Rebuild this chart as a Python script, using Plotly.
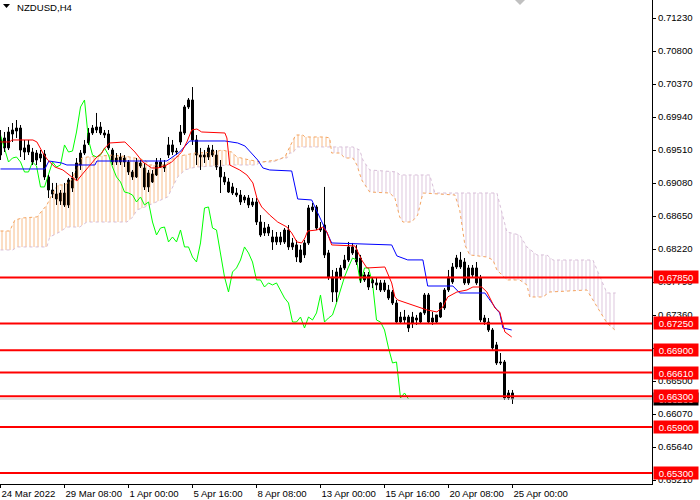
import plotly.graph_objects as go

# ---------------- data ----------------
open_ = [
0.69445, 0.69667, 0.69537, 0.69719, 0.69758, 0.69797, 0.69537, 0.69484, 0.69354, 0.69380,
0.69406, 0.69458, 0.69159, 0.68989, 0.68937, 0.68846, 0.68950, 0.68794, 0.69015, 0.69146,
0.69315, 0.69471, 0.69602, 0.69732, 0.69771, 0.69810, 0.69732, 0.69719, 0.69510, 0.69354,
0.69354, 0.69406, 0.69354, 0.69159, 0.69159, 0.69341, 0.69276, 0.69211, 0.69094, 0.69185,
0.69354, 0.69276, 0.69445, 0.69576, 0.69484, 0.69615, 0.69732, 0.70071, 0.70162, 0.69641,
0.69445, 0.69419, 0.69419, 0.69510, 0.69445, 0.69289, 0.69159, 0.69094, 0.69029, 0.68950,
0.68924, 0.68859, 0.68885, 0.68794, 0.68833, 0.68572, 0.68429, 0.68429, 0.68377, 0.68312,
0.68377, 0.68312, 0.68468, 0.68299, 0.68273, 0.68208, 0.68143, 0.68299, 0.68729, 0.68768,
0.68494, 0.68533, 0.68169, 0.67856, 0.67660, 0.67856, 0.67973, 0.68077, 0.68247, 0.68208,
0.68103, 0.67882, 0.67882, 0.67817, 0.67778, 0.67686, 0.67778, 0.67686, 0.67660, 0.67517,
0.67334, 0.67295, 0.67334, 0.67256, 0.67321, 0.67269, 0.67387, 0.67621, 0.67269, 0.67269,
0.67334, 0.67452, 0.67686, 0.67791, 0.67986, 0.67986, 0.68051, 0.67778, 0.67882, 0.67973,
0.67843, 0.67321, 0.67269, 0.67165, 0.66970, 0.66735, 0.66748, 0.66279, 0.66344]

high = [
0.69771, 0.69745, 0.69810, 0.69862, 0.69901, 0.69836, 0.69641, 0.69641, 0.69537, 0.69510,
0.69510, 0.69510, 0.69185, 0.69081, 0.69081, 0.68989, 0.69081, 0.69146, 0.69224, 0.69406,
0.69510, 0.69641, 0.69797, 0.69836, 0.69993, 0.69875, 0.69771, 0.69771, 0.69537, 0.69471,
0.69471, 0.69445, 0.69380, 0.69250, 0.69406, 0.69380, 0.69341, 0.69250, 0.69250, 0.69406,
0.69406, 0.69380, 0.69680, 0.69641, 0.69537, 0.69836, 0.70097, 0.70188, 0.70331, 0.69706,
0.69537, 0.69510, 0.69576, 0.69576, 0.69510, 0.69380, 0.69224, 0.69146, 0.69081, 0.69015,
0.68989, 0.68924, 0.68924, 0.68885, 0.68885, 0.68663, 0.68572, 0.68546, 0.68468, 0.68442,
0.68442, 0.68494, 0.68533, 0.68364, 0.68338, 0.68273, 0.68338, 0.68794, 0.68820, 0.68794,
0.68572, 0.69029, 0.68208, 0.67947, 0.67973, 0.68012, 0.68143, 0.68312, 0.68299, 0.68273,
0.68143, 0.67921, 0.67921, 0.67856, 0.67843, 0.67817, 0.67817, 0.67752, 0.67686, 0.67556,
0.67400, 0.67426, 0.67361, 0.67400, 0.67361, 0.67400, 0.67647, 0.67647, 0.67400, 0.67361,
0.67530, 0.67712, 0.67947, 0.68038, 0.68143, 0.68182, 0.68103, 0.68012, 0.68012, 0.68051,
0.67882, 0.67361, 0.67321, 0.67191, 0.67009, 0.66865, 0.66774, 0.66383, 0.66383]

low = [
0.69380, 0.69484, 0.69510, 0.69615, 0.69667, 0.69419, 0.69380, 0.69445, 0.69315, 0.69315,
0.69354, 0.69120, 0.68885, 0.68885, 0.68794, 0.68794, 0.68768, 0.68755, 0.68963, 0.69120,
0.69250, 0.69445, 0.69576, 0.69706, 0.69732, 0.69706, 0.69667, 0.69510, 0.69315, 0.69315,
0.69315, 0.69289, 0.69185, 0.69120, 0.69146, 0.69276, 0.68989, 0.68963, 0.69081, 0.69172,
0.69276, 0.69224, 0.69406, 0.69445, 0.69445, 0.69576, 0.69706, 0.70045, 0.69576, 0.69315,
0.69250, 0.69341, 0.69380, 0.69419, 0.69250, 0.68950, 0.69055, 0.68950, 0.68924, 0.68898,
0.68794, 0.68820, 0.68755, 0.68768, 0.68533, 0.68377, 0.68390, 0.68390, 0.68208, 0.68273,
0.68273, 0.68286, 0.68208, 0.68208, 0.68051, 0.68038, 0.68103, 0.68273, 0.68703, 0.68468,
0.68442, 0.68103, 0.67817, 0.67530, 0.67530, 0.67817, 0.67947, 0.68051, 0.68143, 0.68012,
0.67778, 0.67791, 0.67686, 0.67712, 0.67686, 0.67660, 0.67660, 0.67556, 0.67491, 0.67256,
0.67256, 0.67256, 0.67139, 0.67191, 0.67230, 0.67243, 0.67361, 0.67256, 0.67230, 0.67256,
0.67321, 0.67426, 0.67660, 0.67765, 0.67960, 0.67960, 0.67752, 0.67752, 0.67856, 0.67752,
0.67269, 0.67230, 0.67139, 0.66905, 0.66709, 0.66709, 0.66253, 0.66253, 0.66201]

close = [
0.69667, 0.69537, 0.69745, 0.69771, 0.69797, 0.69510, 0.69484, 0.69576, 0.69484, 0.69471,
0.69458, 0.69159, 0.68989, 0.68937, 0.68872, 0.68950, 0.68794, 0.69120, 0.69146, 0.69341,
0.69471, 0.69576, 0.69732, 0.69797, 0.69810, 0.69732, 0.69706, 0.69537, 0.69354, 0.69406,
0.69419, 0.69354, 0.69224, 0.69224, 0.69354, 0.69302, 0.69029, 0.69029, 0.69198, 0.69354,
0.69289, 0.69315, 0.69576, 0.69484, 0.69497, 0.69745, 0.70071, 0.70162, 0.69641, 0.69445,
0.69419, 0.69445, 0.69537, 0.69445, 0.69289, 0.69159, 0.69094, 0.68963, 0.68950, 0.68924,
0.68833, 0.68898, 0.68794, 0.68833, 0.68572, 0.68403, 0.68494, 0.68507, 0.68312, 0.68377,
0.68312, 0.68468, 0.68247, 0.68247, 0.68116, 0.68051, 0.68299, 0.68755, 0.68768, 0.68494,
0.68468, 0.68143, 0.67856, 0.67660, 0.67921, 0.67973, 0.68077, 0.68247, 0.68169, 0.68051,
0.67817, 0.67817, 0.67725, 0.67778, 0.67752, 0.67778, 0.67686, 0.67582, 0.67517, 0.67269,
0.67269, 0.67334, 0.67191, 0.67334, 0.67295, 0.67387, 0.67621, 0.67269, 0.67321, 0.67361,
0.67517, 0.67686, 0.67856, 0.67986, 0.68103, 0.68077, 0.67778, 0.67973, 0.67973, 0.67778,
0.67295, 0.67269, 0.67165, 0.66931, 0.66735, 0.66748, 0.66279, 0.66344, 0.66266]

# Tenkan-sen (red) vertices: bar index / price
tenkan_x = [0, 2.3, 2.8, 8.1, 9.1, 10.6, 11.8, 13.6, 15.6, 17.3, 19.1, 20.3, 21.3, 22.8, 24.1,
            25.3, 26.1, 27.3, 31.1, 33.6, 35.6, 37.8, 39.3, 41.1, 42.8, 45.3, 46.6, 47.8, 49.1,
            50.3, 56.1, 56.6, 57.3, 59.8, 61.6, 63.1, 64.1, 65.3, 67.3, 69.3, 71.6, 72.8, 74.1,
            75.3, 76.1, 76.8, 79.1, 80.6, 81.6, 82.8, 88.6, 89.1, 90.3, 91.6, 96.1, 97.8, 98.6,
            99.3, 101.6, 104.8, 106.6, 109.1, 110.6, 111.8, 114.1, 116.6, 118.1, 120.3, 121.6,
            123.6, 124.8, 126.1, 127.8]
tenkan_y = [0.69615, 0.69615, 0.69641, 0.69641, 0.69615, 0.69471, 0.69380, 0.69289, 0.69250,
            0.69185, 0.69107, 0.69185, 0.69250, 0.69341, 0.69419, 0.69471, 0.69537, 0.69602,
            0.69615, 0.69484, 0.69354, 0.69276, 0.69276, 0.69302, 0.69354, 0.69484, 0.69615,
            0.69771, 0.69784, 0.69745, 0.69732, 0.69667, 0.69315, 0.69250, 0.69185, 0.69081,
            0.68885, 0.68768, 0.68663, 0.68572, 0.68507, 0.68429, 0.68312, 0.68299, 0.68364,
            0.68455, 0.68468, 0.68507, 0.68442, 0.68273, 0.68260, 0.68208, 0.68077, 0.67973,
            0.67986, 0.67778, 0.67595, 0.67556, 0.67517, 0.67465, 0.67426, 0.67400, 0.67465,
            0.67595, 0.67660, 0.67686, 0.67725, 0.67725, 0.67660, 0.67452, 0.67400, 0.67139,
            0.67074]

# Kijun-sen (blue) vertices
kijun_x = [0, 11.1, 12.1, 13.6, 15.3, 16.6, 23.6, 24.1, 41.6, 44.8, 47.3, 56.1, 59.3, 61.1,
           64.3, 65.6, 67.3, 72.8, 74.3, 77.8, 82.8, 97.8, 99.1, 101.8, 105.6, 106.8, 113.1,
           114.8, 121.1, 124.1, 124.8, 125.6, 127.8]
kijun_y = [0.69263, 0.69263, 0.69367, 0.69354, 0.69341, 0.69315, 0.69315, 0.69367, 0.69367,
           0.69484, 0.69628, 0.69628, 0.69602, 0.69563, 0.69380, 0.69276, 0.69250, 0.69237,
           0.68872, 0.68859, 0.68299, 0.68273, 0.68130, 0.68078, 0.68078, 0.67738, 0.67738,
           0.67647, 0.67647, 0.67426, 0.67387, 0.67191, 0.67165]

# Senkou Span A (sandy brown) vertices
span_a_x = [0, 2.3, 3.6, 5.6, 9.1, 11.6, 12.8, 14.3, 16.1, 17.8, 19.1, 20.3, 21.8, 28.1, 32.3,
            36.1, 37.3, 41.1, 43.6, 48.6, 53.6, 55.3, 57.8, 59.1, 62.3, 65.3, 69.1, 71.1, 72.3,
            73.1, 73.8, 75.6, 76.1, 81.1, 82.3, 82.6, 82.8, 84.8, 86.1, 88.1, 89.1, 90.3, 92.3,
            97.3, 98.6, 99.8, 100.6, 102.8, 104.3, 105.6, 113.6, 114.8, 116.1, 117.3, 121.6,
            123.1, 124.1, 126.6, 129.8, 131.6, 132.3, 135.6, 137.3, 146.6, 148.1, 149.8, 151.6,
            153.6]
span_a_y = [0.68455, 0.68455, 0.68599, 0.68625, 0.68638, 0.68794, 0.68924, 0.69055, 0.69055,
            0.69120, 0.69276, 0.69406, 0.69419, 0.69445, 0.69419, 0.69380, 0.69315, 0.69315,
            0.69419, 0.69471, 0.69484, 0.69510, 0.69484, 0.69419, 0.69380, 0.69354, 0.69380,
            0.69419, 0.69550, 0.69641, 0.69706, 0.69706, 0.69680, 0.69680, 0.69667, 0.69550,
            0.69471, 0.69471, 0.69406, 0.69406, 0.69315, 0.69120, 0.68963, 0.68950, 0.68885,
            0.68638, 0.68572, 0.68572, 0.68663, 0.68950, 0.68924, 0.68729, 0.68273, 0.68143,
            0.68116, 0.68077, 0.67947, 0.67817, 0.67817, 0.67752, 0.67595, 0.67595, 0.67660,
            0.67686, 0.67556, 0.67426, 0.67256, 0.67165]

# Senkou Span B (thistle) vertices
span_b_x = [0, 3.1, 4.1, 11.6, 12.3, 14.8, 16.6, 19.8, 21.6, 31.6, 33.1, 34.1, 36.1, 39.8, 41.8,
            44.3, 46.1, 47.8, 49.3, 57.3, 64.1, 64.8, 68.1, 70.6, 71.6, 72.3, 73.1, 74.1, 82.6,
            88.1, 89.8, 90.6, 92.3, 99.1, 99.8, 107.3, 108.6, 124.1, 126.6, 129.8, 131.6, 134.1,
            136.6, 138.1, 148.1, 149.1, 151.6, 153.8]
span_b_y = [0.68208, 0.68208, 0.68247, 0.68247, 0.68377, 0.68442, 0.68507, 0.68507, 0.68572,
            0.68572, 0.68638, 0.68729, 0.68768, 0.68859, 0.68898, 0.69159, 0.69250, 0.69276,
            0.69289, 0.69315, 0.69315, 0.69354, 0.69354, 0.69406, 0.69406, 0.69471, 0.69471,
            0.69550, 0.69550, 0.69550, 0.69510, 0.69380, 0.69250, 0.69224, 0.69185, 0.69185,
            0.68950, 0.68950, 0.68442, 0.68403, 0.68247, 0.68143, 0.68143, 0.68077, 0.68077,
            0.67947, 0.67647, 0.67647]
span_cross_bar = 82.6

levels = [0.67850, 0.67250, 0.66900, 0.66610, 0.66300, 0.65900, 0.65300]

ytick_vals = [0.71230, 0.70800, 0.70370, 0.69940, 0.69510, 0.69080, 0.68650, 0.68220,
              0.67790, 0.67360, 0.66930, 0.66500, 0.66070, 0.65640, 0.65210]
ytick_hidden = [0.66930]   # fully covered by a level label in the reference
xtick_bars = [0, 16, 32, 48, 64, 80, 96, 112, 128]
xtick_labels = ["24 Mar 2022", "29 Mar 08:00", "1 Apr 00:00", "5 Apr 16:00", "8 Apr 08:00",
                "13 Apr 00:00", "15 Apr 16:00", "20 Apr 08:00", "25 Apr 00:00"]
chikou_shift = 26
symbol_title = "NZDUSD,H4"

assert len(open_) == len(high) == len(low) == len(close)

# ---------------- styles ----------------
FONT = "Liberation Sans"
FS = 9.6
ORANGE = "#F4A460"
THISTLE = "#D8BFD8"
W, H = 700, 500
ML, MR, MT, MB = 0, 48, 0, 16
PW, PH = W - ML - MR, H - MT - MB

n = len(close)
idx = list(range(n))

fig = go.Figure()

# ---- Ichimoku cloud (hatched) ----
def part(xs, ys, lo, hi):
    px, py = [], []
    for x, y in zip(xs, ys):
        if lo <= x <= hi:
            px.append(x)
            py.append(y)
    return px, py

bx1, by1 = part(span_b_x, span_b_y, -1, span_cross_bar)
ax1, ay1 = part(span_a_x, span_a_y, -1, span_cross_bar)
ax2, ay2 = part(span_a_x, span_a_y, span_cross_bar, 1e9)
bx2, by2 = part(span_b_x, span_b_y, span_cross_bar, 1e9)

fig.add_trace(go.Scatter(x=bx1, y=by1, mode="lines", line=dict(width=0), hoverinfo="skip"))
fig.add_trace(go.Scatter(x=ax1, y=ay1, mode="lines", line=dict(width=0), fill="tonexty",
                         fillcolor="rgba(0,0,0,0)",
                         fillpattern=dict(shape="|", fgcolor="rgba(244,164,96,0.75)",
                                          bgcolor="rgba(0,0,0,0)", size=4, solidity=0.25,
                                          fillmode="replace"),
                         hoverinfo="skip"))
fig.add_trace(go.Scatter(x=ax2, y=ay2, mode="lines", line=dict(width=0), hoverinfo="skip"))
fig.add_trace(go.Scatter(x=bx2, y=by2, mode="lines", line=dict(width=0), fill="tonexty",
                         fillcolor="rgba(0,0,0,0)",
                         fillpattern=dict(shape="|", fgcolor="rgba(216,191,216,0.9)",
                                          bgcolor="rgba(0,0,0,0)", size=4, solidity=0.25,
                                          fillmode="replace"),
                         hoverinfo="skip"))
fig.add_trace(go.Scatter(x=span_b_x, y=span_b_y, mode="lines",
                         line=dict(color=THISTLE, width=1, dash="dot"), hoverinfo="skip"))
fig.add_trace(go.Scatter(x=span_a_x, y=span_a_y, mode="lines",
                         line=dict(color=ORANGE, width=1, dash="dot"), hoverinfo="skip"))

# ---- Chikou span (close shifted back) ----
fig.add_trace(go.Scatter(x=idx[:n - chikou_shift], y=close[chikou_shift:], mode="lines",
                         line=dict(color="#00FF00", width=1), hoverinfo="skip"))

# ---- candles: wicks ----
wx, wy = [], []
for i in idx:
    wx += [i, i, None]
    wy += [low[i], high[i], None]
fig.add_trace(go.Scatter(x=wx, y=wy, mode="lines", line=dict(color="black", width=1),
                         hoverinfo="skip"))

# ---- candles: bodies ----
body = [c - o for o, c in zip(open_, close)]
cols = ["white" if c >= o else "black" for o, c in zip(open_, close)]
fig.add_trace(go.Bar(x=idx, y=body, base=open_, width=0.5,
                     marker=dict(color=cols, line=dict(color="black", width=1)),
                     hoverinfo="skip"))

# ---- Tenkan / Kijun ----
fig.add_trace(go.Scatter(x=kijun_x, y=kijun_y, mode="lines",
                         line=dict(color="#0000FF", width=1), hoverinfo="skip"))
fig.add_trace(go.Scatter(x=tenkan_x, y=tenkan_y, mode="lines",
                         line=dict(color="#FF0000", width=1), hoverinfo="skip"))

# ---- bid line ----
bid = close[-1]
fig.add_hline(y=bid, line_color="#C0C0C0", line_width=1)

# ---- horizontal levels ----
for lv in levels:
    fig.add_hline(y=lv, line_color="#FF0000", line_width=2)

ann = []
# bid label (mostly hidden behind the 0.66300 label)
ann.append(dict(xref="paper", yref="y", x=(PW + 1) / PW, y=bid, xanchor="left",
                yanchor="middle", text=f"{bid:.5f}", showarrow=False, bgcolor="black",
                font=dict(color="white", size=FS, family=FONT), width=44, height=12,
                borderpad=0))
for lv in levels:
    ann.append(dict(xref="paper", yref="y", x=(PW + 1) / PW, y=lv, xanchor="left",
                    yanchor="middle", text=f"{lv:.5f}", showarrow=False, bgcolor="#FF0000",
                    font=dict(color="white", size=FS, family=FONT), width=44, height=12,
                    borderpad=0))
# title
ann.append(dict(xref="paper", yref="paper", x=15 / PW, y=1 - 8 / PH, xanchor="left",
                yanchor="middle", text=symbol_title, showarrow=False,
                font=dict(color="black", size=FS, family=FONT)))

def ppath(pts):
    s = ""
    for k, (px, py) in enumerate(pts):
        s += ("M" if k == 0 else "L") + f"{px / PW:.5f},{1 - py / PH:.5f} "
    return s + "Z"

shapes = [
    dict(type="path", xref="paper", yref="paper", path=ppath([(3, 4), (10, 4), (6.5, 8)]),
         fillcolor="black", line=dict(width=0)),
    dict(type="path", xref="paper", yref="paper", path=ppath([(515, 0), (525, 0), (520, 5)]),
         fillcolor="#C0C0C0", line=dict(width=0)),
]

fig.update_layout(
    template="none",
    width=W, height=H,
    margin=dict(l=ML, r=MR, t=MT, b=MB, pad=0),
    paper_bgcolor="white", plot_bgcolor="white",
    showlegend=False,
    barmode="overlay",
    font=dict(family=FONT, size=FS, color="black"),
    annotations=ann,
    hovermode=False,
)
for s in shapes:
    fig.add_shape(**s)

fig.update_xaxes(range=[-0.5 / 4, (PW - 0.5) / 4], tickmode="array", tickvals=xtick_bars,
                 ticktext=xtick_labels, ticks="outside", ticklen=3, tickcolor="black",
                 tickwidth=1, showline=True, linecolor="black", linewidth=1, mirror=False,
                 showgrid=False, zeroline=False, automargin=False, tickangle=0,
                 ticklabelposition="outside right",
                 tickfont=dict(family=FONT, size=FS, color="black"))
fig.update_yaxes(side="right", range=[0.65158, 0.71465], tickmode="array",
                 tickvals=ytick_vals,
                 ticktext=["" if v in ytick_hidden else f"{v:.5f}" for v in ytick_vals],
                 ticks="outside", ticklen=3, tickcolor="black", tickwidth=1, showline=True,
                 linecolor="black", linewidth=1, showgrid=False, zeroline=False,
                 automargin=False, tickfont=dict(family=FONT, size=FS, color="black"))

fig.write_html("out.html", config={"displayModeBar": False},
               post_script="document.body.style.margin='0';document.body.style.padding='0';"
                           "document.body.style.overflow='hidden';")
